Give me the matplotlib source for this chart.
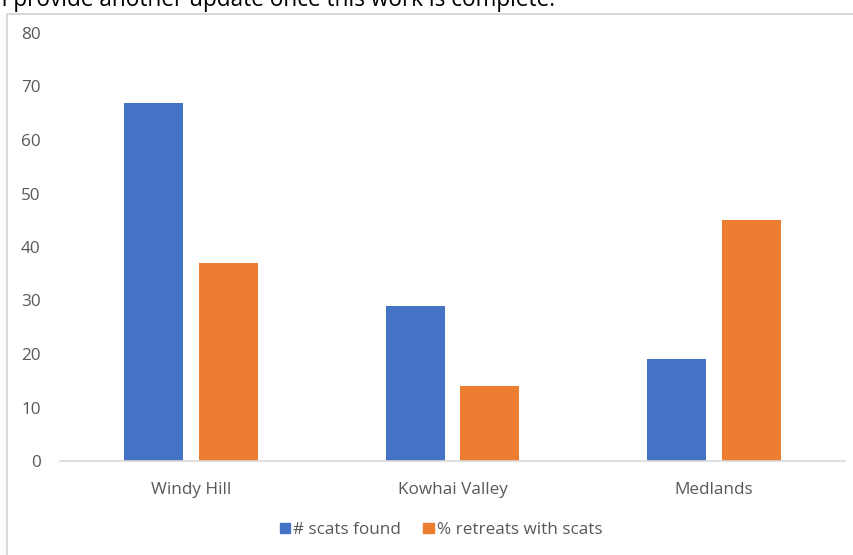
import numpy as np
import matplotlib.pyplot as plt
from matplotlib.patches import Rectangle, Patch

plt.rcParams['font.family'] = ['Open Sans', 'DejaVu Sans']

categories = ['Windy Hill', 'Kowhai Valley', 'Medlands']
scats_found = [67, 29, 19]
pct_retreats = [37, 14, 45]
series_names = ['# scats found', '% retreats with scats']
yticks = [0, 10, 20, 30, 40, 50, 60, 70, 80]

blue = '#4472c4'
orange = '#ed7d31'
gray_txt = '#595959'

W, H = 854, 555
fig = plt.figure(figsize=(W / 100, H / 100), dpi=100)

# leftover text line from the document above the chart (clipped at the top)
fig.text(-4 / W, 1 - 6 / H, 'll provide another update once this work is complete.',
         fontsize=16.3, color='black', va='baseline', ha='left')

# chart frame
fig.patches.append(Rectangle((7 / W, -0.1), 1.1, 1 - 14 / H + 0.1,
                             transform=fig.transFigure, fill=False,
                             edgecolor='#d9d9d9', lw=1.5))

ax = fig.add_axes([60 / W, 1 - 461 / H, 785 / W, 428 / H])
x = np.arange(len(categories))
bw = 0.226
gap = 0.06
ax.bar(x - (bw + gap) / 2, scats_found, bw, color=blue, label=series_names[0])
ax.bar(x + (bw + gap) / 2, pct_retreats, bw, color=orange, label=series_names[1])

ax.set_xlim(-0.5, len(categories) - 0.5)
ax.set_ylim(0, 80)
ax.set_yticks(yticks)
ax.set_xticks(x)
ax.set_xticklabels(categories)
for s in ['top', 'right', 'left']:
    ax.spines[s].set_visible(False)
ax.spines['bottom'].set_color('#d9d9d9')
ax.spines['bottom'].set_linewidth(1.2)
ax.tick_params(axis='both', length=0, labelsize=12.3, labelcolor=gray_txt)
ax.tick_params(axis='y', pad=14)
ax.tick_params(axis='x', pad=15)

handles = [Patch(color=blue), Patch(color=orange)]
fig.legend(handles, series_names, loc='center', bbox_to_anchor=(441 / W, 1 - 530 / H),
           ncol=2, frameon=False, fontsize=12.3, labelcolor=gray_txt,
           handlelength=0.6, handleheight=0.6, handletextpad=0.2, columnspacing=1.3)

fig.savefig('out.png', dpi=100)
